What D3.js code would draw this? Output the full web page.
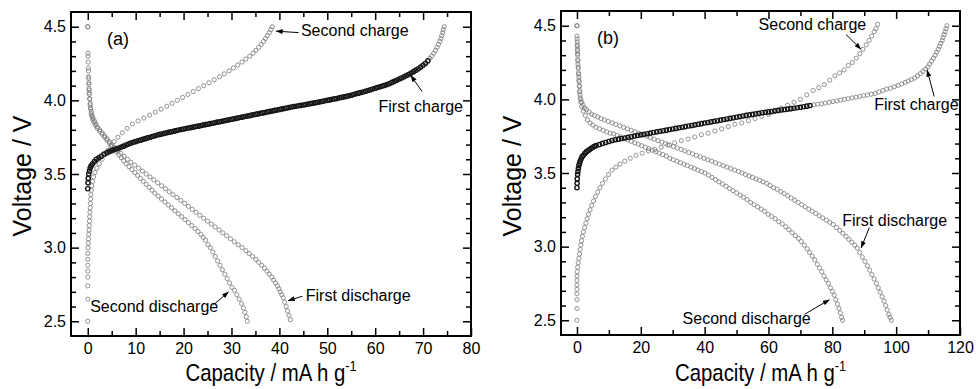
<!DOCTYPE html>
<html>
<head>
<meta charset="utf-8">
<script src="https://cdn.jsdelivr.net/npm/d3@7"></script>
<style>
  body { margin: 0; background: #fff; }
  text { font-family: Arial, "Liberation Sans", sans-serif; fill: #000; }
</style>
</head>
<body>
<svg id="chart" width="976" height="389"></svg>
<script>
// ---- Panel (a) data: [capacity mA h g-1, voltage V] ----
const firstChargeA = [[0,3.40],[0.05,3.44],[0.1,3.47],[0.2,3.50],[0.35,3.52],[0.5,3.54],[0.7,3.555],[1.0,3.57],[1.4,3.585],[1.8,3.60],[2.3,3.61],[2.8,3.62],[3.4,3.635],[4.0,3.645],[4.5,3.652],[5.0,3.659],[5.5,3.665],[6.0,3.671],[6.5,3.677],[7.0,3.683],[7.5,3.689],[8.0,3.697],[8.5,3.703],[9.0,3.710],[9.5,3.715],[10,3.720],[10.5,3.725],[11,3.730],[11.5,3.735],[12,3.740],[12.5,3.745],[13,3.750],[13.5,3.755],[14,3.760],[14.5,3.765],[15,3.769],[15.5,3.772],[16,3.776],[16.5,3.780],[17,3.784],[17.5,3.787],[18,3.791],[18.5,3.795],[19,3.799],[19.5,3.802],[20,3.806],[20.5,3.809],[21,3.812],[21.5,3.815],[22,3.818],[22.5,3.822],[23,3.825],[23.5,3.828],[24,3.832],[24.5,3.835],[25,3.838],[25.5,3.842],[26,3.845],[26.5,3.848],[27,3.852],[27.5,3.855],[28,3.858],[28.5,3.862],[29,3.865],[29.5,3.868],[30,3.872],[30.5,3.875],[31,3.878],[31.5,3.882],[32,3.885],[32.5,3.888],[33,3.892],[33.5,3.895],[34,3.898],[34.5,3.902],[35,3.905],[35.5,3.908],[36,3.912],[36.5,3.915],[37,3.918],[37.5,3.922],[38,3.925],[38.5,3.928],[39,3.932],[39.5,3.935],[40,3.938],[40.5,3.942],[41,3.945],[41.5,3.948],[42,3.952],[42.5,3.955],[43,3.958],[43.5,3.960],[44,3.963],[44.5,3.966],[45,3.969],[45.5,3.972],[46,3.975],[46.5,3.978],[47,3.981],[47.5,3.984],[48,3.987],[48.5,3.990],[49,3.993],[49.5,3.997],[50,4.000],[50.5,4.003],[51,4.007],[51.5,4.010],[52,4.013],[52.5,4.017],[53,4.020],[53.5,4.024],[54,4.027],[54.5,4.031],[55,4.035],[55.5,4.040],[56,4.045],[56.5,4.049],[57,4.053],[57.5,4.057],[58,4.062],[58.5,4.067],[59,4.072],[59.5,4.077],[60,4.082],[60.5,4.087],[61,4.092],[61.5,4.097],[62,4.102],[62.5,4.108],[63,4.115],[63.5,4.122],[64,4.129],[64.5,4.137],[65,4.145],[65.5,4.152],[66,4.160],[66.5,4.168],[67,4.176],[67.5,4.185],[68,4.195],[68.5,4.205],[69,4.215],[69.5,4.226],[70,4.238],[70.5,4.252],[71,4.268]];
const firstChargeTailA = [[71.4,4.285],[71.8,4.30],[72.2,4.32],[72.6,4.34],[72.9,4.36],[73.2,4.38],[73.5,4.40],[73.7,4.42],[73.9,4.44],[74.1,4.46],[74.2,4.48],[74.4,4.50]];
const firstDischargeA = [[0,4.50],[0.05,4.32],[0.1,4.26],[0.15,4.2],[0.2,4.15],[0.25,4.11],[0.3,4.07],[0.35,4.04],[0.4,4.01],[0.5,3.98],[0.6,3.95],[0.75,3.925],[0.9,3.90],[1.1,3.88],[1.4,3.86],[1.7,3.84],[2.0,3.82],[2.5,3.80],[3.0,3.78],[3.5,3.76],[4.0,3.74],[4.5,3.72],[5.0,3.70],[5.6,3.68],[6.2,3.66],[6.9,3.64],[7.6,3.62],[8.3,3.60],[9,3.58],[9.8,3.56],[10.6,3.54],[11.4,3.52],[12.2,3.50],[13,3.48],[13.8,3.46],[14.6,3.44],[15.4,3.42],[16.2,3.40],[17,3.38],[17.8,3.36],[18.6,3.34],[19.4,3.32],[20.2,3.30],[21,3.28],[21.8,3.26],[22.6,3.24],[23.4,3.22],[24.2,3.20],[25,3.18],[25.8,3.16],[26.6,3.14],[27.4,3.12],[28.2,3.10],[29,3.08],[29.8,3.06],[30.6,3.04],[31.4,3.02],[32.2,3.00],[33,2.98],[33.7,2.96],[34.4,2.94],[35.1,2.92],[35.7,2.90],[36.3,2.88],[36.9,2.86],[37.4,2.84],[37.9,2.82],[38.4,2.80],[38.8,2.78],[39.2,2.76],[39.6,2.74],[39.9,2.72],[40.2,2.70],[40.5,2.68],[40.8,2.66],[41.1,2.63],[41.4,2.60],[41.7,2.57],[42,2.54],[42.3,2.51]];
const secondChargeA = [[0,2.50],[0,2.65],[0,2.74],[0,2.80],[0,2.84],[0,2.88],[0,2.92],[0,2.96],[0.05,3.00],[0.1,3.03],[0.15,3.06],[0.2,3.09],[0.25,3.12],[0.3,3.15],[0.35,3.18],[0.4,3.21],[0.45,3.24],[0.5,3.27],[0.55,3.30],[0.6,3.33],[0.65,3.36],[0.75,3.39],[0.85,3.42],[1.0,3.45],[1.2,3.48],[1.5,3.51],[1.9,3.54],[2.4,3.57],[3.0,3.60],[3.6,3.63],[4.2,3.66],[4.8,3.69],[5.5,3.72],[6.3,3.75],[7.2,3.78],[8.2,3.81],[9.3,3.84],[10.5,3.86],[11.7,3.88],[12.9,3.90],[14.1,3.92],[15.3,3.94],[16.5,3.96],[17.6,3.98],[18.7,4.00],[19.8,4.02],[20.9,4.04],[22,4.06],[23.1,4.08],[24.2,4.10],[25.3,4.12],[26.4,4.14],[27.5,4.16],[28.5,4.18],[29.5,4.20],[30.4,4.22],[31.3,4.24],[32.2,4.26],[33,4.28],[33.8,4.30],[34.5,4.32],[35.1,4.34],[35.7,4.36],[36.2,4.38],[36.7,4.40],[37.1,4.42],[37.5,4.44],[37.9,4.46],[38.2,4.48],[38.5,4.50]];
const secondDischargeA = [[0,4.50],[0.05,4.30],[0.1,4.22],[0.15,4.16],[0.2,4.12],[0.25,4.08],[0.3,4.05],[0.4,4.01],[0.5,3.97],[0.6,3.94],[0.7,3.91],[0.85,3.89],[1.0,3.87],[1.3,3.85],[1.6,3.83],[2,3.81],[2.5,3.79],[3,3.77],[3.5,3.75],[4,3.73],[4.5,3.71],[5,3.69],[5.5,3.67],[6,3.65],[6.5,3.63],[7,3.61],[7.5,3.59],[8,3.57],[8.6,3.55],[9.2,3.53],[9.8,3.51],[10.4,3.49],[11,3.47],[11.6,3.45],[12.2,3.43],[12.8,3.41],[13.4,3.39],[14,3.37],[14.7,3.35],[15.4,3.33],[16.1,3.31],[16.8,3.29],[17.5,3.27],[18.2,3.25],[18.9,3.23],[19.6,3.21],[20.3,3.19],[21,3.17],[21.7,3.15],[22.4,3.13],[23,3.11],[23.6,3.09],[24.1,3.07],[24.6,3.05],[25.1,3.02],[25.6,3.00],[26.1,2.97],[26.6,2.94],[27.1,2.91],[27.6,2.88],[28.1,2.85],[28.6,2.82],[29.1,2.79],[29.6,2.76],[30.1,2.73],[30.6,2.71],[31.1,2.68],[31.6,2.65],[32.1,2.62],[32.5,2.59],[32.8,2.56],[33.1,2.53],[33.3,2.50]];

// ---- Panel (b) data ----
const firstChargeB = [[0,3.40],[0.05,3.43],[0.1,3.46],[0.2,3.49],[0.3,3.51],[0.45,3.53],[0.6,3.55],[0.8,3.565],[1.0,3.58],[1.3,3.595],[1.6,3.61],[2,3.62],[2.5,3.633],[3,3.645],[3.5,3.653],[4,3.660],[4.5,3.668],[5,3.675],[5.5,3.681],[6,3.686],[7,3.693],[8,3.701],[9,3.707],[10,3.714],[11,3.721],[12,3.726],[13,3.730],[14,3.734],[15,3.738],[16,3.742],[17,3.746],[18,3.751],[19,3.755],[20,3.759],[21,3.763],[22,3.767],[23,3.771],[24,3.775],[25,3.779],[26,3.783],[27,3.787],[28,3.791],[29,3.795],[30,3.799],[31,3.803],[32,3.807],[33,3.811],[34,3.815],[35,3.819],[36,3.823],[37,3.827],[38,3.831],[39,3.835],[40,3.839],[41,3.843],[42,3.847],[43,3.851],[44,3.855],[45,3.859],[46,3.863],[47,3.867],[48,3.871],[49,3.875],[50,3.879],[51,3.883],[52,3.887],[53,3.891],[54,3.895],[55,3.898],[56,3.902],[57,3.905],[58,3.909],[59,3.912],[60,3.915],[61,3.918],[62,3.922],[63,3.925],[64,3.928],[65,3.931],[66,3.934],[67,3.937],[68,3.940],[69,3.943],[70,3.946],[71,3.950],[72,3.954],[73,3.958]];
const firstChargeTailB = [[74.2,3.963],[75.4,3.967],[76.6,3.97],[77.8,3.975],[79,3.98],[80.2,3.985],[81.4,3.99],[82.6,3.995],[83.8,4.00],[85,4.005],[86.2,4.01],[87.4,4.015],[88.6,4.02],[89.8,4.025],[91,4.03],[92.2,4.035],[93.4,4.04],[94.6,4.05],[95.8,4.06],[97,4.07],[98.2,4.075],[99.4,4.085],[100.6,4.095],[101.7,4.105],[102.8,4.115],[103.8,4.125],[104.8,4.135],[105.8,4.145],[106.7,4.16],[107.6,4.175],[108.4,4.19],[109.2,4.205],[109.9,4.22],[110.5,4.24],[111.1,4.26],[111.7,4.28],[112.2,4.30],[112.7,4.32],[113.2,4.34],[113.6,4.36],[114,4.38],[114.4,4.40],[114.7,4.42],[115,4.44],[115.3,4.46],[115.6,4.48],[115.9,4.50]];
const firstDischargeB = [[0,4.50],[0,4.43],[0.05,4.39],[0.1,4.36],[0.15,4.33],[0.2,4.30],[0.25,4.27],[0.3,4.24],[0.4,4.21],[0.5,4.18],[0.6,4.15],[0.7,4.12],[0.8,4.09],[0.9,4.06],[1.0,4.03],[1.2,4.00],[1.5,3.98],[1.9,3.96],[2.4,3.94],[3,3.93],[3.8,3.915],[4.6,3.90],[5.5,3.89],[6.5,3.88],[7.5,3.87],[8.6,3.86],[9.8,3.85],[11,3.84],[12.2,3.83],[13.4,3.82],[14.6,3.81],[15.8,3.80],[17,3.79],[18.2,3.78],[19.4,3.77],[20.6,3.76],[21.8,3.75],[23,3.74],[24.2,3.73],[25.4,3.72],[26.6,3.71],[27.8,3.70],[29,3.69],[30.2,3.68],[31.4,3.67],[32.6,3.66],[33.8,3.65],[35,3.64],[36.2,3.63],[37.4,3.62],[38.6,3.61],[39.8,3.60],[41,3.59],[42.2,3.58],[43.4,3.57],[44.6,3.56],[45.8,3.55],[47,3.54],[48.2,3.53],[49.4,3.52],[50.6,3.51],[51.7,3.50],[52.8,3.49],[53.9,3.48],[55,3.47],[56.1,3.46],[57.2,3.45],[58.3,3.44],[59.4,3.43],[60.5,3.415],[61.6,3.40],[62.7,3.39],[63.8,3.375],[64.9,3.36],[66,3.345],[67.1,3.33],[68.2,3.315],[69.3,3.30],[70.4,3.285],[71.5,3.27],[72.6,3.255],[73.7,3.24],[74.8,3.225],[75.9,3.21],[77,3.195],[78.1,3.18],[79.2,3.165],[80.3,3.15],[81.3,3.13],[82.3,3.11],[83.3,3.09],[84.3,3.07],[85.2,3.05],[86.1,3.03],[87,3.01],[87.8,2.99],[88.6,2.96],[89.4,2.93],[90.2,2.90],[91,2.87],[91.7,2.84],[92.4,2.81],[93.1,2.78],[93.8,2.75],[94.4,2.72],[95,2.69],[95.6,2.66],[96.2,2.63],[96.7,2.60],[97.2,2.57],[97.7,2.54],[98.1,2.52],[98.5,2.50]];
const secondChargeB = [[0,2.50],[0,2.58],[0,2.64],[0,2.68],[0,2.71],[0,2.74],[0,2.77],[0,2.80],[0.1,2.83],[0.2,2.86],[0.4,2.89],[0.6,2.92],[0.8,2.95],[1.0,2.98],[1.2,3.01],[1.4,3.04],[1.7,3.07],[2.0,3.10],[2.4,3.13],[2.8,3.16],[3.2,3.19],[3.6,3.22],[4.1,3.25],[4.6,3.28],[5.2,3.31],[5.8,3.34],[6.5,3.37],[7.2,3.40],[8,3.43],[8.9,3.46],[9.9,3.49],[11,3.52],[12.2,3.54],[13.5,3.56],[15,3.58],[16.7,3.60],[18.5,3.62],[20.4,3.635],[22.4,3.65],[24.4,3.66],[26.4,3.675],[28.5,3.69],[30.6,3.705],[32.7,3.72],[34.8,3.73],[36.9,3.745],[39,3.76],[41.1,3.77],[43.2,3.785],[45.3,3.80],[47.4,3.815],[49.5,3.83],[51.6,3.84],[53.7,3.855],[55.8,3.87],[57.9,3.885],[60,3.90],[62,3.92],[64,3.94],[66,3.96],[68,3.98],[70,4.00],[72,4.03],[74,4.06],[75.8,4.08],[77.5,4.10],[79.2,4.13],[80.8,4.16],[82.3,4.18],[83.7,4.20],[85,4.23],[86.3,4.25],[87.5,4.28],[88.6,4.31],[89.6,4.34],[90.6,4.37],[91.5,4.40],[92.3,4.43],[93.1,4.46],[93.7,4.48],[94.2,4.51]];
const secondDischargeB = [[0,4.50],[0.05,4.41],[0.1,4.37],[0.15,4.34],[0.2,4.31],[0.3,4.26],[0.4,4.22],[0.5,4.17],[0.6,4.13],[0.7,4.09],[0.8,4.05],[1.0,4.01],[1.2,3.98],[1.5,3.95],[2,3.92],[2.6,3.89],[3.3,3.86],[4.1,3.84],[5,3.825],[6,3.81],[7.1,3.80],[8.2,3.79],[9.3,3.78],[10.4,3.77],[11.5,3.765],[12.6,3.755],[13.7,3.745],[14.8,3.735],[15.9,3.725],[17,3.715],[18.1,3.705],[19.2,3.695],[20.3,3.685],[21.4,3.675],[22.5,3.665],[23.6,3.655],[24.7,3.645],[25.8,3.635],[26.9,3.625],[28,3.615],[29.1,3.60],[30.2,3.59],[31.3,3.58],[32.4,3.57],[33.5,3.56],[34.6,3.55],[35.7,3.54],[36.8,3.53],[37.9,3.52],[39,3.51],[40.1,3.50],[41.2,3.485],[42.3,3.47],[43.4,3.455],[44.5,3.44],[45.6,3.425],[46.7,3.41],[47.8,3.395],[48.9,3.38],[50,3.365],[51.1,3.35],[52.2,3.335],[53.3,3.32],[54.4,3.30],[55.5,3.285],[56.6,3.27],[57.7,3.255],[58.8,3.24],[59.9,3.22],[61,3.205],[62.1,3.19],[63.2,3.17],[64.3,3.155],[65.4,3.135],[66.4,3.115],[67.4,3.095],[68.4,3.075],[69.4,3.055],[70.3,3.035],[71.2,3.01],[72.1,2.985],[72.9,2.96],[73.7,2.935],[74.5,2.91],[75.3,2.88],[76,2.855],[76.7,2.83],[77.4,2.80],[78.1,2.775],[78.8,2.75],[79.4,2.72],[80,2.695],[80.6,2.67],[81.1,2.64],[81.6,2.61],[82.1,2.58],[82.5,2.55],[82.9,2.52],[83.2,2.50]];

// ---- Ticks ----
const voltTicks = [2.5, 3.0, 3.5, 4.0, 4.5];
const voltMinor = [2.6, 2.7, 2.8, 2.9, 3.1, 3.2, 3.3, 3.4, 3.6, 3.7, 3.8, 3.9, 4.1, 4.2, 4.3, 4.4];
const capTicksA = [0, 10, 20, 30, 40, 50, 60, 70, 80];
const capMinorA = [5, 15, 25, 35, 45, 55, 65, 75];
const capTicksB = [0, 20, 40, 60, 80, 100, 120];
const capMinorB = [10, 30, 50, 70, 90, 110];

// ---- Annotations: text anchor point and arrow (tail -> head) in data units ----
const notesA = [
  { text: 'Second charge',    x: 44.5, y: 4.44, arrow: [44.0, 4.46, 39.3, 4.47] },
  { text: 'First charge',     x: 60.7, y: 3.92, arrow: [69.8, 4.06, 67.4, 4.17] },
  { text: 'First discharge',  x: 45.5, y: 2.64, arrow: [44.8, 2.67, 41.8, 2.64] },
  { text: 'Second discharge', x: 0.5,  y: 2.56, arrow: [26.2, 2.61, 29.4, 2.70] }
];
const notesB = [
  { text: 'Second charge',    x: 56.9, y: 4.47, arrow: [84.3, 4.44, 89.0, 4.34] },
  { text: 'First charge',     x: 93.1, y: 3.93, arrow: [111.9, 4.02, 109.7, 4.20] },
  { text: 'First discharge',  x: 83.1, y: 3.14, arrow: [91.6, 3.13, 89.0, 2.99] },
  { text: 'Second discharge', x: 33.1, y: 2.475, arrow: [71.3, 2.54, 79.1, 2.64] }
];

const GRAY = '#7a7a7a';
const DARK = '#151515';

const svg = d3.select('#chart');

// arrow head
svg.append('defs').append('marker')
  .attr('id', 'head')
  .attr('viewBox', '0 0 8 6')
  .attr('refX', 8).attr('refY', 3)
  .attr('markerWidth', 7).attr('markerHeight', 5)
  .attr('markerUnits', 'userSpaceOnUse')
  .attr('orient', 'auto')
  .append('path').attr('d', 'M0,0 L8,3 L0,6 Z').attr('fill', '#000');

const panels = [
  {
    label: '(a)', left: 71, right: 471, top: 12, bottom: 336,
    xDomain: [-3.5, 80], xTicks: capTicksA, xMinor: capMinorA,
    series: [
      { data: secondChargeA, color: GRAY },
      { data: firstDischargeA, color: GRAY },
      { data: secondDischargeA, color: GRAY },
      { data: firstChargeTailA, color: GRAY },
      { data: firstChargeA, color: DARK }
    ],
    notes: notesA
  },
  {
    label: '(b)', left: 561, right: 960, top: 11, bottom: 335,
    xDomain: [-5, 120], xTicks: capTicksB, xMinor: capMinorB,
    series: [
      { data: secondChargeB, color: GRAY },
      { data: firstDischargeB, color: GRAY },
      { data: secondDischargeB, color: GRAY },
      { data: firstChargeTailB, color: GRAY },
      { data: firstChargeB, color: DARK }
    ],
    notes: notesB
  }
];

function drawPanel(p) {
  const x = d3.scaleLinear().domain(p.xDomain).range([p.left, p.right]);
  const y = d3.scaleLinear().domain([2.4, 4.6]).range([p.bottom, p.top]);
  const g = svg.append('g');

  // data markers
  p.series.forEach(s => {
    g.append('g').selectAll('circle')
      .data(s.data)
      .join('circle')
      .attr('cx', d => x(d[0]))
      .attr('cy', d => y(d[1]))
      .attr('r', 2.1)
      .attr('fill', 'none')
      .attr('stroke', s.color)
      .attr('stroke-width', s.color === DARK ? 1.4 : 0.8);
  });

  // axes (inward ticks on all four sides)
  const styleAxis = sel => {
    sel.select('.domain').remove();
    sel.selectAll('line').attr('stroke', '#000').attr('stroke-width', 1.5);
    sel.selectAll('text').attr('font-size', 16).attr('font-family', 'Arial, "Liberation Sans", sans-serif');
  };
  g.append('g').attr('transform', `translate(0,${p.bottom})`)
    .call(d3.axisBottom(x).tickValues(p.xTicks).tickSize(-8).tickPadding(7).tickFormat(d3.format('d')))
    .call(styleAxis);
  g.append('g').attr('transform', `translate(0,${p.bottom})`)
    .call(d3.axisBottom(x).tickValues(p.xMinor).tickSize(-5).tickFormat(''))
    .call(styleAxis);
  g.append('g').attr('transform', `translate(0,${p.top})`)
    .call(d3.axisTop(x).tickValues(p.xTicks.filter(v => v < p.xDomain[1])).tickSize(-8).tickFormat(''))
    .call(styleAxis);
  g.append('g').attr('transform', `translate(0,${p.top})`)
    .call(d3.axisTop(x).tickValues(p.xMinor).tickSize(-5).tickFormat(''))
    .call(styleAxis);
  g.append('g').attr('transform', `translate(${p.left},0)`)
    .call(d3.axisLeft(y).tickValues(voltTicks).tickSize(-8).tickPadding(5).tickFormat(d3.format('.1f')))
    .call(styleAxis);
  g.append('g').attr('transform', `translate(${p.left},0)`)
    .call(d3.axisLeft(y).tickValues(voltMinor).tickSize(-5).tickFormat(''))
    .call(styleAxis);
  g.append('g').attr('transform', `translate(${p.right},0)`)
    .call(d3.axisRight(y).tickValues(voltTicks).tickSize(-8).tickFormat(''))
    .call(styleAxis);
  g.append('g').attr('transform', `translate(${p.right},0)`)
    .call(d3.axisRight(y).tickValues(voltMinor).tickSize(-5).tickFormat(''))
    .call(styleAxis);

  // frame
  g.append('rect')
    .attr('x', p.left).attr('y', p.top)
    .attr('width', p.right - p.left).attr('height', p.bottom - p.top)
    .attr('fill', 'none').attr('stroke', '#000').attr('stroke-width', 2);

  // panel label
  g.append('text')
    .attr('x', x(p.xDomain[0]) + 36).attr('y', p.top + 33)
    .attr('font-size', 18)
    .text(p.label);

  // annotations
  p.notes.forEach(n => {
    g.append('text')
      .attr('x', x(n.x)).attr('y', y(n.y))
      .attr('font-size', 16)
      .text(n.text);
    g.append('line')
      .attr('x1', x(n.arrow[0])).attr('y1', y(n.arrow[1]))
      .attr('x2', x(n.arrow[2])).attr('y2', y(n.arrow[3]))
      .attr('stroke', '#000').attr('stroke-width', 1)
      .attr('marker-end', 'url(#head)');
  });

  // axis titles
  const cx = (p.left + p.right) / 2;
  const xt = g.append('text')
    .attr('transform', `translate(${cx},381) scale(0.85,1)`)
    .attr('text-anchor', 'middle')
    .attr('font-size', 24);
  xt.append('tspan').text('Capacity / mA h g');
  xt.append('tspan').attr('dy', -10).attr('font-size', 15).text('-1');

  g.append('text')
    .attr('transform', `translate(${p.left - 40},176) rotate(-90)`)
    .attr('text-anchor', 'middle')
    .attr('font-size', 25)
    .text('Voltage / V');
}

panels.forEach(drawPanel);
</script>
</body>
</html>
